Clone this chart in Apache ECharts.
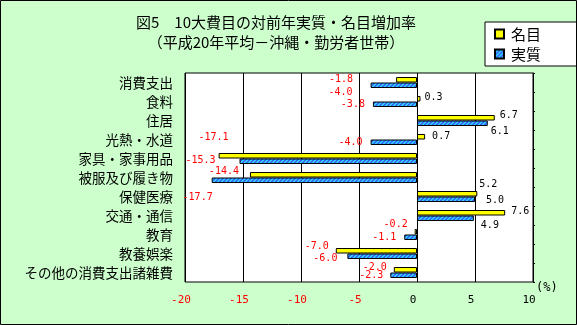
<!DOCTYPE html>
<html><head><meta charset="utf-8">
<script src="https://cdn.jsdelivr.net/npm/echarts@6/dist/echarts.min.js"></script>
<style>html,body{margin:0;padding:0;background:#CCFFCC}#c{width:577px;height:325px}</style>
</head><body><div id="c"></div>
<script>
// ---- data ----
const categories = ['消費支出','食料','住居','光熱・水道','家具・家事用品','被服及び履き物','保健医療','交通・通信','教育','教養娯楽','その他の消費支出諸雑費'];
const nominal = [-1.8, 0.3, 6.7, 0.7, -17.1, -14.4, 5.2, 7.6, -0.2, -7.0, -2.0];
const real    = [-4.0, -3.8, 6.1, -4.0, -15.3, -17.7, 5.0, 4.9, -1.1, -6.0, -2.3];
const xTicks = [-20, -15, -10, -5, 0, 5, 10];
const seriesNames = ['名目', '実質'];
const titleLines = ['図5　10大費目の対前年実質・名目増加率', '（平成20年平均－沖縄・勤労者世帯）'];
const unitLabel = '(%)';

// ---- layout of the data labels (moved by hand in the original) ----
const nominalLabelShift = [[-43,0],[4,-1],[5,-2],[7,0],[10,-18],[-11,-3],[2,-9],[6,-1],[-7,-7],[-7,-4],[-7,-2]];
const realLabelShift    = [[-18,7],[-8,0],[3,8],[-8,0],[-24,-1],[1,17],[11,1],[7,7],[-8,0],[-10,2],[-7,0]];

function stripe() {
  const c = document.createElement('canvas');
  c.width = 4; c.height = 4;
  const g = c.getContext('2d');
  g.fillStyle = '#33CCFF'; g.fillRect(0, 0, 4, 4);
  g.fillStyle = '#3366FF';
  for (let y = 0; y < 4; y++) for (let x = 0; x < 4; x++) if ((x + y) % 4 < 2) g.fillRect(x, y, 1, 1);
  return c;
}

function items(values, shifts) {
  return values.map((v, i) => ({
    value: v,
    label: {
      position: v < 0 ? 'left' : 'right',
      offset: shifts[i],
      color: v < 0 ? '#FF0000' : '#000000'
    }
  }));
}

const mono = 'DejaVu Sans Mono';
const jp = 'Noto Sans CJK JP';

const chart = echarts.init(document.getElementById('c'), null, { renderer: 'canvas' });
chart.setOption({
  backgroundColor: '#CCFFCC',
  animation: false,
  grid: { left: 185, top: 73, width: 348, height: 209, show: true, backgroundColor: '#FFFFFF', borderColor: '#000000', borderWidth: 1 },
  legend: {
    data: seriesNames, orient: 'vertical', left: 485, top: 22,
    itemWidth: 9, itemHeight: 9, itemGap: 4, padding: [4, 36, 4, 9],
    borderColor: '#000000', borderWidth: 1, backgroundColor: '#FFFFFF',
    icon: 'rect',
    textStyle: { fontFamily: jp, fontSize: 15, color: '#000000', lineHeight: 16, padding: [0, 0, 0, 2] }
  },
  xAxis: {
    type: 'value', min: xTicks[0], max: xTicks[xTicks.length - 1], interval: 5,
    axisLine: { show: false }, axisTick: { show: false },
    splitLine: { show: true, lineStyle: { color: '#000000', width: 1 } },
    axisLabel: {
      fontFamily: mono, fontSize: 11, margin: 13, padding: [0, 8, 0, 0],
      color: v => (v < 0 ? '#FF0000' : '#000000')
    }
  },
  yAxis: [
    {
      type: 'category', data: categories, inverse: true,
      axisLine: { show: false }, axisTick: { show: false }, splitLine: { show: false },
      axisLabel: { fontFamily: jp, fontSize: 13.5, color: '#000000', margin: 12 }
    },
    {
      type: 'category', data: categories, inverse: true, position: 'right',
      axisLine: { show: true, onZero: true, lineStyle: { color: '#000000', width: 1 } },
      axisTick: { show: true, length: 2, inside: false, lineStyle: { color: '#000000' } },
      axisLabel: { show: false }, splitLine: { show: false }
    }
  ],
  series: [
    {
      name: seriesNames[0], type: 'bar', yAxisIndex: 0, barWidth: 5.5, barGap: '0%',
      itemStyle: { color: '#FFFF00', borderColor: '#000000', borderWidth: 1 },
      label: { show: true, distance: 0, fontFamily: mono, fontSize: 10, formatter: p => p.value.toFixed(1) },
      data: items(nominal, nominalLabelShift)
    },
    {
      name: seriesNames[1], type: 'bar', yAxisIndex: 0, barWidth: 5.5, barGap: '0%',
      itemStyle: { color: { image: stripe(), repeat: 'repeat' }, borderColor: '#000000', borderWidth: 1 },
      label: { show: true, distance: 0, fontFamily: mono, fontSize: 10, formatter: p => p.value.toFixed(1) },
      data: items(real, realLabelShift)
    }
  ],
  graphic: [
    { type: 'rect', silent: true, z: 100, shape: { x: 0.5, y: 0.5, width: 576, height: 324 }, style: { fill: null, stroke: '#000000', lineWidth: 1 } },
    { type: 'text', silent: true, x: 276, y: 22.5, style: { text: titleLines[0], font: '15px "' + jp + '"', fill: '#000000', align: 'center', verticalAlign: 'middle' } },
    { type: 'text', silent: true, x: 276, y: 42.5, style: { text: titleLines[1], font: '15px "' + jp + '"', fill: '#000000', align: 'center', verticalAlign: 'middle' } },
    { type: 'text', silent: true, x: 536, y: 287.5, style: { text: unitLabel, font: '12px "' + mono + '"', fill: '#000000', align: 'left', verticalAlign: 'middle' } }
  ]
});
</script>
</body></html>
